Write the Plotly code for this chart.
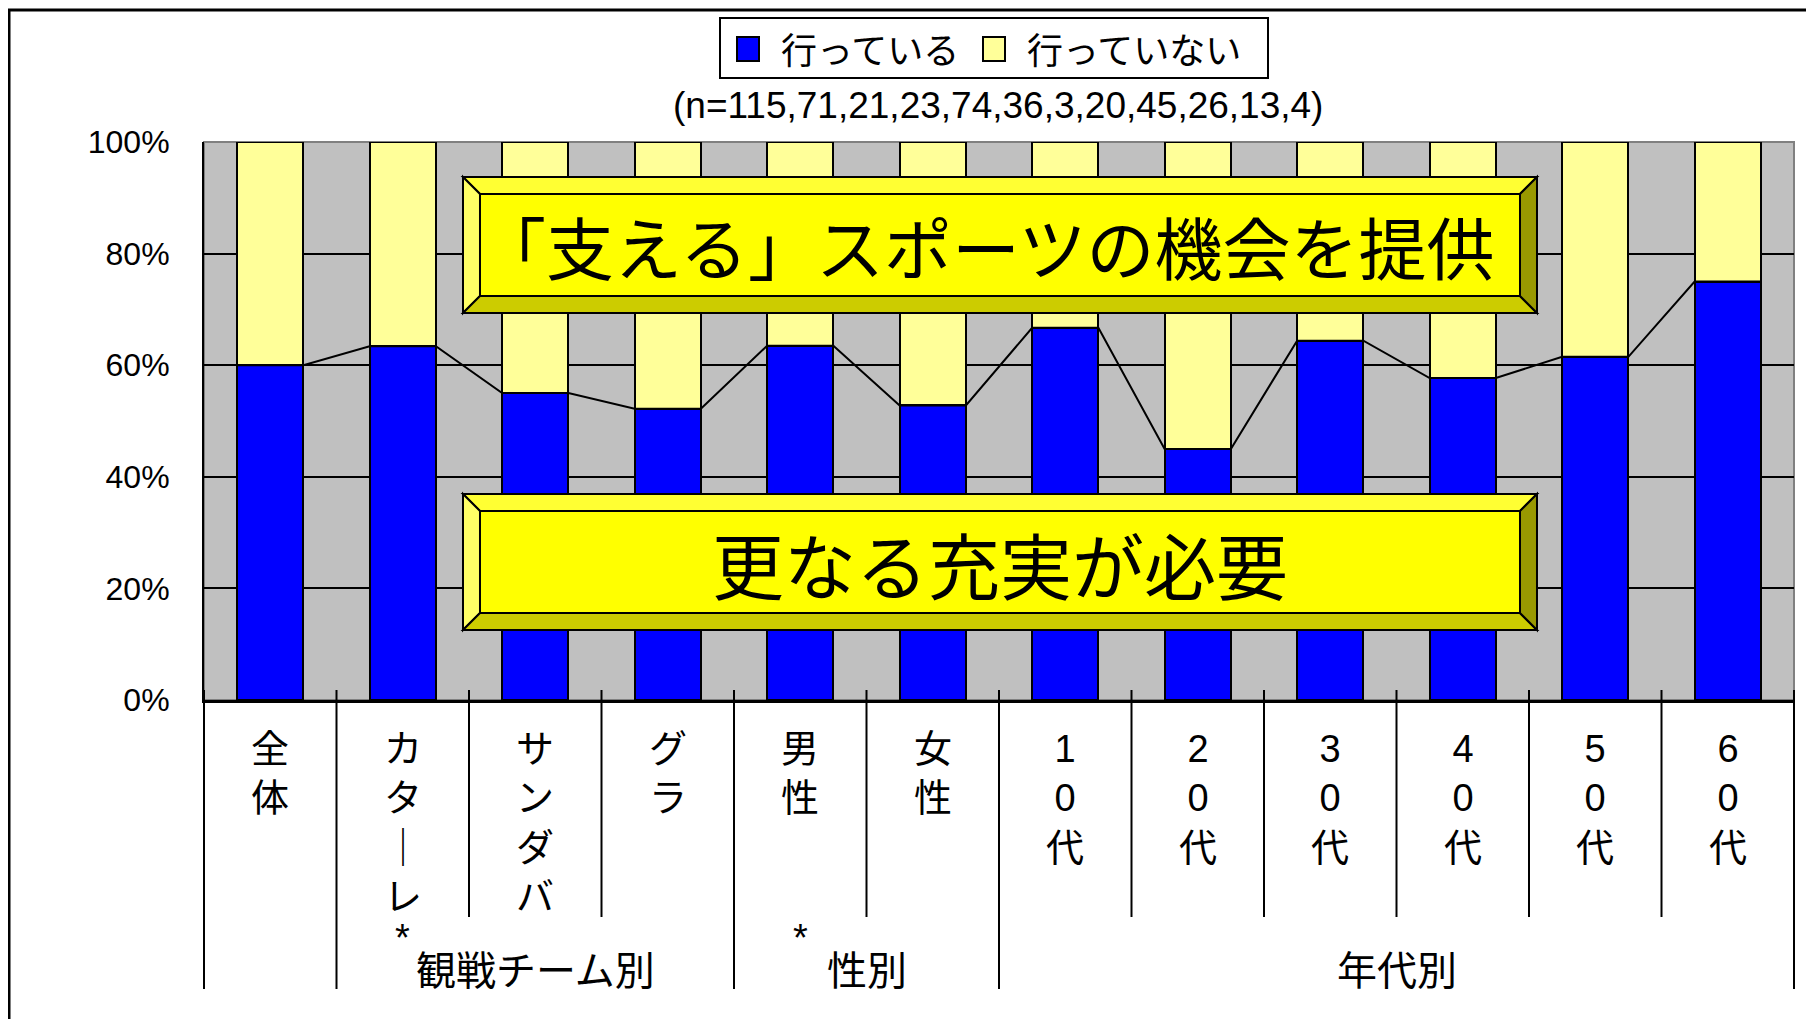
import plotly.graph_objects as go

categories = ["全体", "カターレ", "サンダバ", "グラ", "男性", "女性",
              "10代", "20代", "30代", "40代", "50代", "60代"]
doing = [60.0, 63.4, 55.0, 52.2, 63.5, 52.8, 66.7, 45.0, 64.4, 57.7, 61.5, 75.0]
not_doing = [40.0, 36.6, 45.0, 47.8, 36.5, 47.2, 33.3, 55.0, 35.6, 42.3, 38.5, 25.0]
series_names = ["行っている", "行っていない"]
series_colors = ["#0000FF", "#FFFF99"]
groups = ["観戦チーム別", "性別", "年代別"]
group_ranges = [(1, 3), (4, 5), (6, 11)]
starred = [1, 4]
y_ticks = [0, 20, 40, 60, 80, 100]
sample_note = "(n=115,71,21,23,74,36,3,20,45,26,13,4)"
callouts = ["「支える」スポーツの機会を提供", "更なる充実が必要"]
callout_sizes = [68, 72]
callout_text_x = [986, 1000]

# page body has an 8px margin, so the figure is drawn 8px in from the window edge
OFF = 8
W, H = 1814 - OFF, 1019 - OFF
L, R, T, B = 204, 1794, 142, 700
JP = "Noto Sans CJK JP"
LAT = "Liberation Sans, Noto Sans CJK JP"


def px(X):
    return (X - L) / (R - L)


def py(Y):
    return (B - Y) / (B - T)


def vert(s):
    return "<br>".join("｜" if c == "ー" else c for c in s)


n = len(categories)
xs = list(range(n))

fig = go.Figure()
fig.add_trace(go.Bar(x=xs, y=doing, width=0.5, name=series_names[0],
                     marker=dict(color=series_colors[0], line=dict(color="black", width=2))))
fig.add_trace(go.Bar(x=xs, y=not_doing, width=0.5, name=series_names[1],
                     marker=dict(color=series_colors[1], line=dict(color="black", width=2))))

# series lines between tops of the blue bars
lx, ly = [], []
for i, v in enumerate(doing):
    lx += [i - 0.25, i + 0.25]
    ly += [v, v]
fig.add_trace(go.Scatter(x=lx, y=ly, mode="lines", line=dict(color="black", width=2),
                         showlegend=False, hoverinfo="skip"))

shapes = []
annotations = []

# plot area border (gray)
shapes.append(dict(type="rect", xref="paper", yref="paper", x0=0, x1=1, y0=0, y1=1,
                   line=dict(color="#808080", width=2), layer="between"))

# category table lines
long_lines = {0, 1, 4, 6, 12}
for k in range(n + 1):
    shapes.append(dict(type="line", xref="paper", yref="paper", x0=k / n, x1=k / n,
                       y0=py(690), y1=py(989 if k in long_lines else 917),
                       line=dict(color="black", width=2)))

# outer chart border
shapes.append(dict(type="rect", xref="paper", yref="paper", x0=px(9), x1=px(1840),
                   y0=py(1050), y1=py(10), line=dict(color="black", width=3)))

# category labels
for i, c in enumerate(categories):
    annotations.append(dict(x=i, xref="x", y=py(726), yref="paper", xanchor="center",
                            yanchor="top", text=vert(c), showarrow=False, align="center",
                            font=dict(family=LAT, size=38, color="black")))
for i in starred:
    annotations.append(dict(x=i, xref="x", y=py(938), yref="paper", xanchor="center",
                            yanchor="middle", text="*", showarrow=False,
                            font=dict(family=LAT, size=38, color="black")))
for g, (a, b) in zip(groups, group_ranges):
    annotations.append(dict(x=(a + b) / 2, xref="x", y=py(968), yref="paper", xanchor="center",
                            yanchor="middle", text=g, showarrow=False,
                            font=dict(family=JP, size=40, color="black")))

# legend
shapes.append(dict(type="rect", xref="paper", yref="paper", x0=px(720), x1=px(1268),
                   y0=py(78), y1=py(18), line=dict(color="black", width=2), fillcolor="white"))
for name, col, x0, tx in zip(series_names, series_colors, [737, 983], [779, 1025]):
    shapes.append(dict(type="rect", xref="paper", yref="paper", x0=px(x0), x1=px(x0 + 22),
                       y0=py(61), y1=py(37), line=dict(color="black", width=2), fillcolor=col))
    annotations.append(dict(x=px(tx), y=py(48), xref="paper", yref="paper", xanchor="left",
                            yanchor="middle", text=name, showarrow=False,
                            font=dict(family=JP, size=36, color="black")))

annotations.append(dict(x=px(998), y=py(105), xref="paper", yref="paper", xanchor="center",
                        yanchor="middle", text=sample_note, showarrow=False,
                        font=dict(family=LAT, size=37, color="black")))

# bevelled callout boxes
bev = 17
for text, size, tx, (y0, y1) in zip(callouts, callout_sizes, callout_text_x, [(177, 313), (494, 630)]):
    x0, x1 = 463, 1537
    polys = [
        ([(x0, y0), (x1, y0), (x1 - bev, y0 + bev), (x0 + bev, y0 + bev)], "#FFFF33"),
        ([(x0, y0), (x0 + bev, y0 + bev), (x0 + bev, y1 - bev), (x0, y1)], "#FFFF66"),
        ([(x0, y1), (x0 + bev, y1 - bev), (x1 - bev, y1 - bev), (x1, y1)], "#CCCC00"),
        ([(x1, y0), (x1, y1), (x1 - bev, y1 - bev), (x1 - bev, y0 + bev)], "#999900"),
        ([(x0 + bev, y0 + bev), (x1 - bev, y0 + bev), (x1 - bev, y1 - bev), (x0 + bev, y1 - bev)], "#FFFF00"),
    ]
    for pts, col in polys:
        path = "M" + " L".join(f"{px(a):.5f},{py(b):.5f}" for a, b in pts) + " Z"
        shapes.append(dict(type="path", xref="paper", yref="paper", path=path,
                           fillcolor=col, line=dict(color="black", width=2)))
    annotations.append(dict(x=px(tx), y=py((y0 + y1) / 2), xref="paper", yref="paper",
                            xanchor="center", yanchor="middle", text=text, showarrow=False,
                            font=dict(family=JP, size=size, color="black")))

fig.update_layout(
    width=W, height=H,
    barmode="stack",
    showlegend=False,
    paper_bgcolor="white",
    plot_bgcolor="#C0C0C0",
    margin=dict(l=L - OFF, r=1814 - R, t=T - OFF, b=1019 - B, pad=0),
    xaxis=dict(range=[-0.5, n - 0.5], showticklabels=False, showgrid=False, zeroline=False,
               showline=True, linecolor="black", linewidth=3, fixedrange=True),
    yaxis=dict(range=[0, 100], tickvals=y_ticks, ticktext=[f"{v}%" for v in y_ticks],
               showgrid=True, gridcolor="black", gridwidth=2, zeroline=False,
               showline=True, linecolor="black", linewidth=2, ticks="",
               ticklabelstandoff=26,
               tickfont=dict(family=LAT, size=32, color="black")),
    shapes=shapes,
    annotations=annotations,
)

fig.write_html("out.html")
